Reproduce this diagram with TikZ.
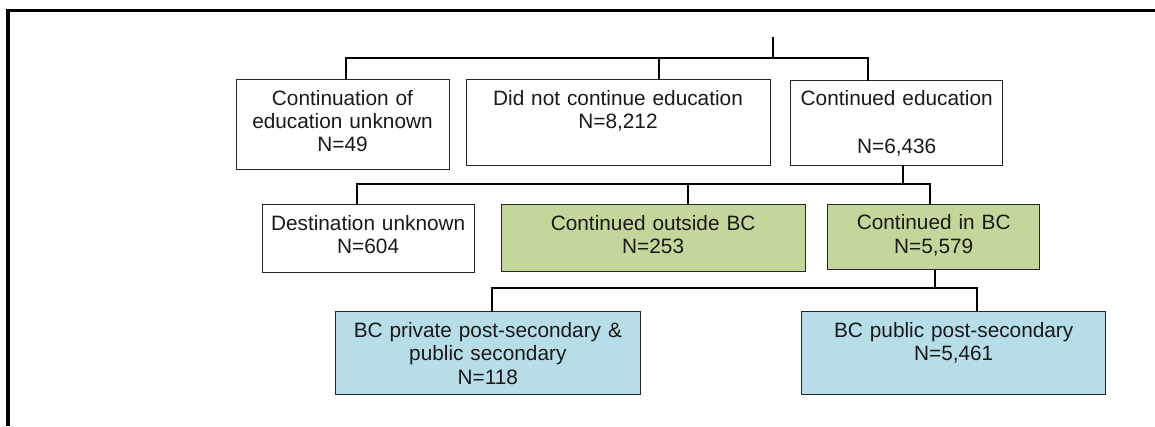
\documentclass[tikz,border=0pt]{standalone}
\usepackage{fontspec}
\setmainfont{Liberation Sans}
\definecolor{grn}{RGB}{196,215,155}
\definecolor{blu}{RGB}{183,222,232}
\tikzset{
  box/.style={draw=black!85, line width=0.9pt, inner sep=0pt, outer sep=0pt, anchor=north west},
  txt/.style={anchor=north, inner sep=0pt, align=center, yshift=-9.2pt,
    font=\fontsize{20.8}{23.3}\selectfont, text=black!90},
  conn/.style={line width=2pt, black},
  frame/.style={line width=3.5pt, black, line join=miter}
}
\begin{document}
\begin{tikzpicture}[x=1pt,y=-1pt]
\useasboundingbox (0,0) rectangle (1155,426);
\draw[frame] (8,426) -- (8,10.5) -- (1155,10.5);
% row 1
\node[box, minimum width=213, minimum height=89.7] (A) at (236,79.3) {};
\node[box, minimum width=304, minimum height=86] (B) at (466,79.3) {};
\node[box, minimum width=212, minimum height=84.6] (C) at (790.7,80.7) {};
% row 2
\node[box, minimum width=212.3, minimum height=68.5] (D) at (262,204.3) {};
\node[box, fill=grn, minimum width=304.3, minimum height=66.7] (E) at (501,204.3) {};
\node[box, fill=grn, minimum width=212, minimum height=65.7] (F) at (827.7,204) {};
% row 3
\node[box, fill=blu, minimum width=304.3, minimum height=82.3] (G) at (335.7,311.7) {};
\node[box, fill=blu, minimum width=304, minimum height=82.3] (H) at (801.7,311.7) {};
% texts
\node[txt, text width=209] (At) at (A.north) {\strut Continuation of\\education unknown\\N=49};
\node[txt, text width=300] (Bt) at (B.north) {\strut Did not continue education\\N=8,212};
\node[txt, text width=208, yshift=1pt] (Ct) at (C.north) {\strut Continued education\\[25pt]N=6,436};
\node[txt, text width=208] (Dt) at (D.north) {\strut Destination unknown\\N=604};
\node[txt, text width=300] (Et) at (E.north) {\strut Continued outside BC\\N=253};
\node[txt, text width=208] (Ft) at (F.north) {\strut Continued in BC\\N=5,579};
\node[txt, text width=300] (Gt) at (G.north) {\strut BC private post-secondary \&\\public secondary\\N=118};
\node[txt, text width=300] (Ht) at (H.north) {\strut BC public post-secondary\\N=5,461};
% connectors row 1
\coordinate (top) at (773,37);
\coordinate (j1) at (773,58);
\coordinate (a1) at (346,58);
\coordinate (b1) at (659,58);
\coordinate (c1) at (868,58);
\draw[conn] (top) -- (j1);
\draw[conn] (A.north -| a1) -- (a1) -- (c1) -- (C.north -| c1);
\draw[conn] (B.north -| b1) -- (b1);
% connectors row 2
\coordinate (j2) at (903.3,183.5);
\coordinate (d2) at (357,183.5);
\coordinate (e2) at (688,183.5);
\coordinate (f2) at (930,183.5);
\draw[conn] (C.south -| j2) -- (j2);
\draw[conn] (D.north -| d2) -- (d2) -- (f2) -- (F.north -| f2);
\draw[conn] (E.north -| e2) -- (e2);
% connectors row 3
\coordinate (j3) at (935,288);
\coordinate (g3) at (492,288);
\coordinate (h3) at (976.7,288);
\draw[conn] (F.south -| j3) -- (j3);
\draw[conn] (G.north -| g3) -- (g3) -- (h3) -- (H.north -| h3);
\end{tikzpicture}
\end{document}
